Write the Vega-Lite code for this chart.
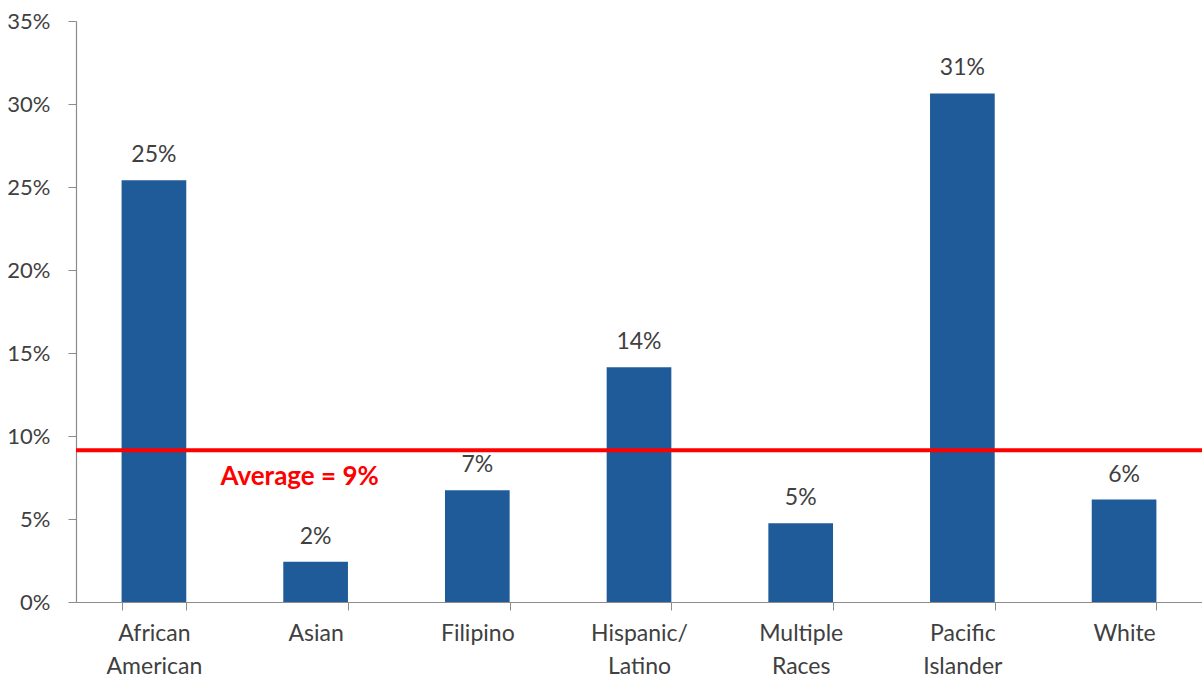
{
  "$schema": "https://vega.github.io/schema/vega-lite/v6.json",
  "width": 1126,
  "height": 581,
  "autosize": {"type": "none"},
  "padding": {"left": 76, "top": 21, "right": 0, "bottom": 79},
  "background": "white",
  "config": {
    "view": {"stroke": null},
    "font": "Lato",
    "axis": {"grid": false, "domainColor": "#8c8c8c", "tickColor": "#8c8c8c", "labelColor": "#404040", "labelFont": "Lato", "labelFontSize": 23, "titleFontSize": 0}
  },
  "datasets": {
    "rates": [
      {"group": "African American", "rate": 0.254},
      {"group": "Asian", "rate": 0.0243},
      {"group": "Filipino", "rate": 0.0673},
      {"group": "Hispanic/ Latino", "rate": 0.1414},
      {"group": "Multiple Races", "rate": 0.0474},
      {"group": "Pacific Islander", "rate": 0.3064},
      {"group": "White", "rate": 0.0617}
    ],
    "avg": [
      {"group": "Asian", "rate": 0.0914, "label": "Average = 9%"}
    ]
  },
  "layer": [
    {
      "data": {"name": "rates"},
      "mark": {"type": "bar", "color": "#1f5b98"},
      "encoding": {
        "x": {
          "field": "group", "type": "nominal", "sort": null,
          "scale": {"paddingInner": 0.6, "paddingOuter": 0.282},
          "axis": {"title": null, "labelAngle": 0, "tickBand": "extent", "tickSize": 8, "labelPadding": 12,
                   "labelExpr": "split(datum.label, ' ')", "labelLineHeight": 33, "labelBaseline": "top", "domainWidth": 1.2}
        },
        "y": {
          "field": "rate", "type": "quantitative",
          "scale": {"domain": [0, 0.35], "nice": false},
          "axis": {"title": null, "format": ".0%", "values": [0, 0.05, 0.1, 0.15, 0.2, 0.25, 0.3, 0.35], "tickSize": 8, "labelPadding": 18, "labelFontSize": 22, "domainWidth": 1.2}
        }
      }
    },
    {
      "data": {"name": "rates"},
      "mark": {"type": "text", "baseline": "bottom", "dy": -13, "fontSize": 23, "color": "#404040", "font": "Lato"},
      "encoding": {
        "x": {"field": "group", "type": "nominal", "sort": null},
        "y": {"field": "rate", "type": "quantitative"},
        "text": {"field": "rate", "type": "quantitative", "format": ".0%"}
      }
    },
    {
      "data": {"name": "avg"},
      "mark": {"type": "rule", "color": "#ff0000", "strokeWidth": 4},
      "encoding": {
        "y": {"field": "rate", "type": "quantitative"}
      }
    },
    {
      "data": {"name": "avg"},
      "mark": {"type": "text", "baseline": "middle", "align": "center", "dx": -16, "dy": 27, "fontSize": 26, "fontWeight": "bold", "color": "#ff0000", "font": "Lato"},
      "encoding": {
        "x": {"field": "group", "type": "nominal", "sort": null},
        "y": {"field": "rate", "type": "quantitative"},
        "text": {"field": "label"}
      }
    }
  ]
}
